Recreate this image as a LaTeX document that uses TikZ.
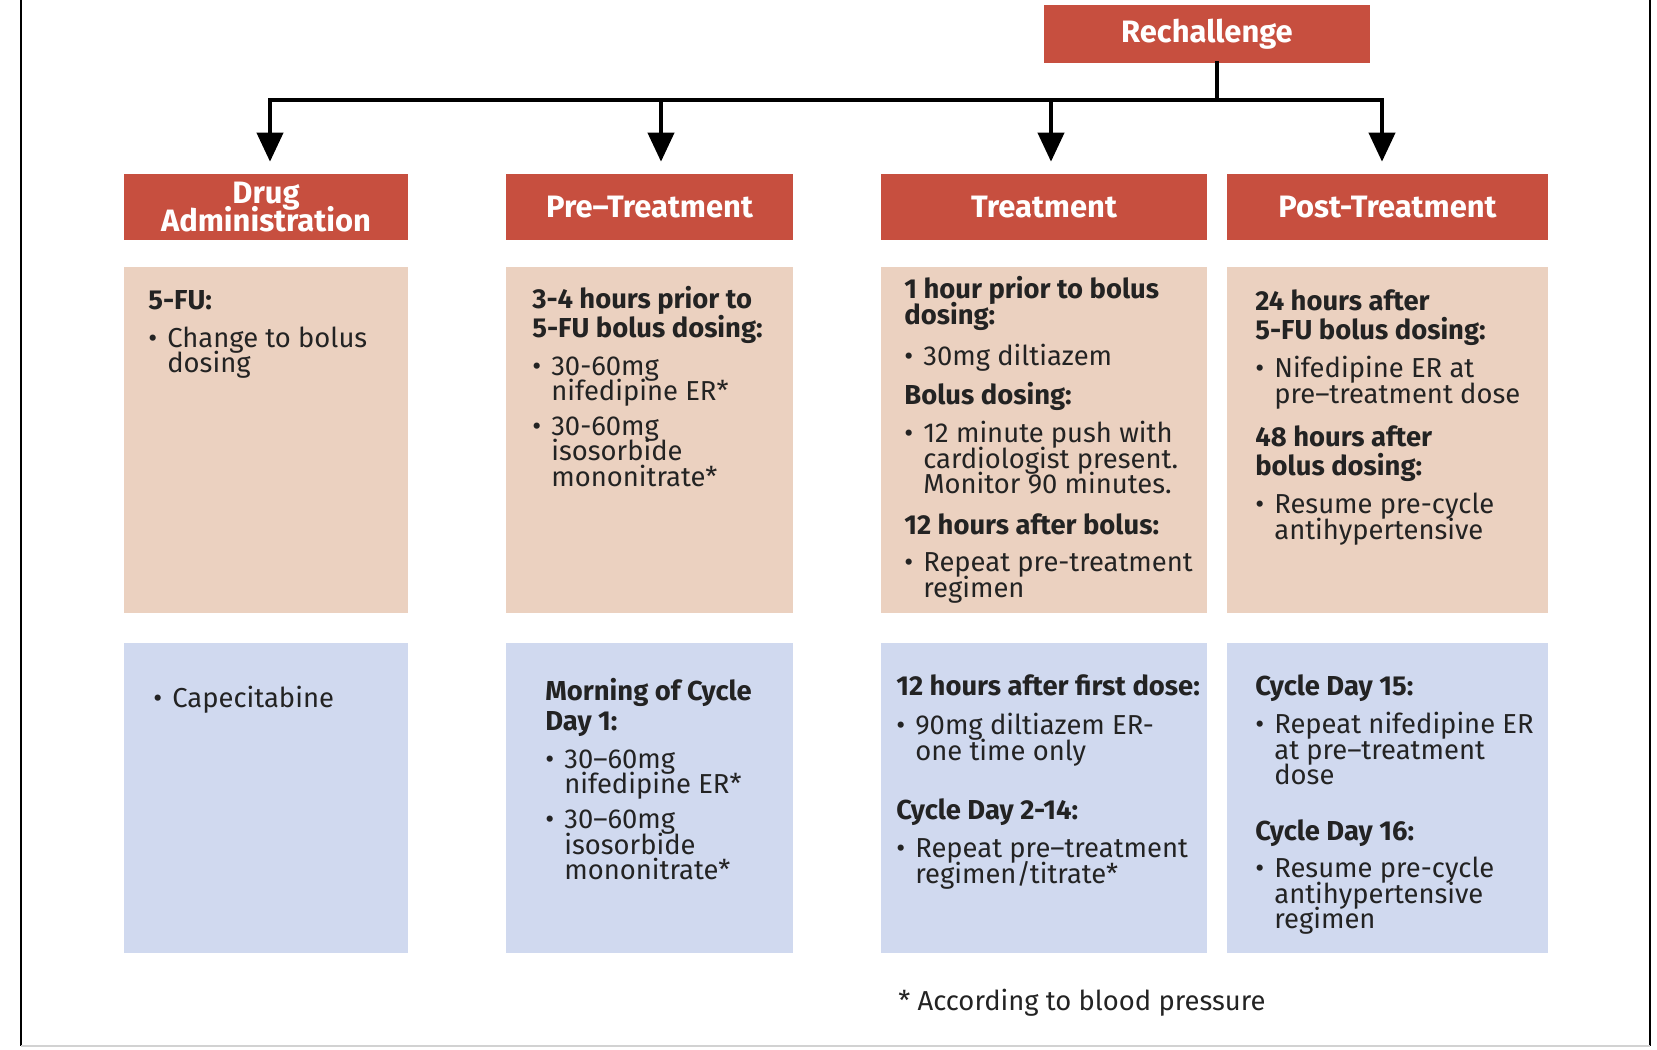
\documentclass[tikz,border=0pt]{standalone}
\usepackage{fontspec}
\setmainfont{Fira Sans}
\usetikzlibrary{arrows.meta}
\definecolor{rechred}{RGB}{199,79,63}
\definecolor{peach}{RGB}{235,209,192}
\definecolor{lightblue}{RGB}{208,217,239}
\definecolor{ink}{RGB}{35,35,35}
\newcommand{\bl}{\makebox[10.8pt][l]{\textbullet}}
\newcommand{\ind}{\hspace*{10.8pt}}
\newcommand{\tightlines}{\setlength{\lineskiplimit}{-50pt}}
\tikzset{
	headbox/.style={shape=rectangle,fill=rechred,text=white,font={\fontsize{17.6}{15.6}\selectfont\tightlines\bfseries},align=center,inner sep=0pt},
	peachbox/.style={shape=rectangle,fill=peach,inner sep=0pt},
	bluebox/.style={shape=rectangle,fill=lightblue,inner sep=0pt},
	txt/.style={anchor=north west,align=left,inner sep=0pt,text=ink,font={\fontsize{15.6}{14.5}\selectfont\tightlines}},
	wire/.style={line width=2.3pt,black,line cap=rect}
}
\newcommand{\drawstage}[4]{
	\node (h#1) [headbox,minimum width=#3cm,minimum height=1.32cm] at (#2,207) {#4};
	\node (p#1) [peachbox,minimum width=#3cm,minimum height=6.92cm] at (#2,440) {};
	\node (b#1) [bluebox,minimum width=#3cm,minimum height=6.2cm] at (#2,798) {};
}

\begin{document}
\begin{tikzpicture}[x=0.02cm,y=-0.02cm]
	\useasboundingbox (0,0) rectangle (1657,1049);
	\draw[line width=1.2pt] (21,0) -- (21,1046) (1650,0) -- (1650,1046);
	\draw[gray!35,line width=1.2pt] (21,1046) -- (1650,1046);
	\node (rech) [headbox,minimum width=6.52cm,minimum height=1.16cm] at (1207,34) {Rechallenge};
	\drawstage{Drug}{266}{5.68}{Drug\\Administration}
	\drawstage{Pre}{649.5}{5.74}{Pre–Treatment}
	\drawstage{Treat}{1044}{6.52}{Treatment}
	\drawstage{Post}{1387.5}{6.42}{Post-Treatment}
	% connectors
	\coordinate (j) at (1217,100);
	\draw[wire] (rech.south -| j) -- (j);
	\draw[wire] ([xshift=0.08cm]hDrug.north |- j) -- ([xshift=-0.11cm]hPost.north |- j);
	\foreach \n/\dx in {hDrug/0.08,hPre/0.23,hTreat/0.14,hPost/-0.11}
		\draw[wire,line cap=butt,-{Triangle[length=0.58cm,width=0.52cm]},shorten >=0.24cm] ([xshift=\dx cm]\n.north |- j) -- ([xshift=\dx cm]\n.north);
	% texts
	\node (tpDrug) [txt] at (148,290) {\textbf{5-FU:}\\[7pt]\bl Change to bolus\\\ind dosing};
	\node (tpPre) [txt] at (532,286) {\textbf{3-4 hours prior to}\\[2pt]\textbf{5-FU bolus dosing:}\\[7pt]\bl 30-60mg\\\ind nifedipine ER*\\[5pt]\bl 30-60mg\\\ind isosorbide\\\ind mononitrate*};
	\node (tpTreat) [txt] at (904,276) {\textbf{1 hour prior to bolus}\\\textbf{dosing:}\\[9pt]\bl 30mg diltiazem\\[8pt]\textbf{Bolus dosing:}\\[7pt]\bl 12 minute push with\\\ind cardiologist present.\\\ind Monitor 90 minutes.\\[9pt]\textbf{12 hours after bolus:}\\[6.5pt]\bl Repeat pre-treatment\\\ind regimen};
	\node (tpPost) [txt] at (1255,289) {\textbf{24 hours after}\\[2pt]\textbf{5-FU bolus dosing:}\\[7.5pt]\bl Nifedipine ER at\\\ind pre–treatment dose\\[10pt]\textbf{48 hours after}\\[2pt]\textbf{bolus dosing:}\\[7.5pt]\bl Resume pre-cycle\\\ind antihypertensive};
	\node (tbDrug) [txt] at (153,686) {\bl Capecitabine};
	\node (tbPre) [txt] at (545,678) {\textbf{Morning of Cycle}\\[2.5pt]\textbf{Day 1:}\\[7pt]\bl 30–60mg\\\ind nifedipine ER*\\[5.5pt]\bl 30–60mg\\\ind isosorbide\\\ind mononitrate*};
	\node (tbTreat) [txt] at (896,674) {\textbf{12 hours after first dose:}\\[8pt]\bl 90mg diltiazem ER-\\\ind one time only\\[19pt]\textbf{Cycle Day 2-14:}\\[7.5pt]\bl Repeat pre–treatment\\\ind regimen/titrate*};
	\node (tbPost) [txt] at (1255,674) {\textbf{Cycle Day 15:}\\[7.5pt]\bl Repeat nifedipine ER\\\ind at pre–treatment\\\ind dose\\[17pt]\textbf{Cycle Day 16:}\\[7pt]\bl Resume pre-cycle\\\ind antihypertensive\\\ind regimen};
	\node (foot) [txt] at (898,989) {* According to blood pressure};
\end{tikzpicture}
\end{document}
